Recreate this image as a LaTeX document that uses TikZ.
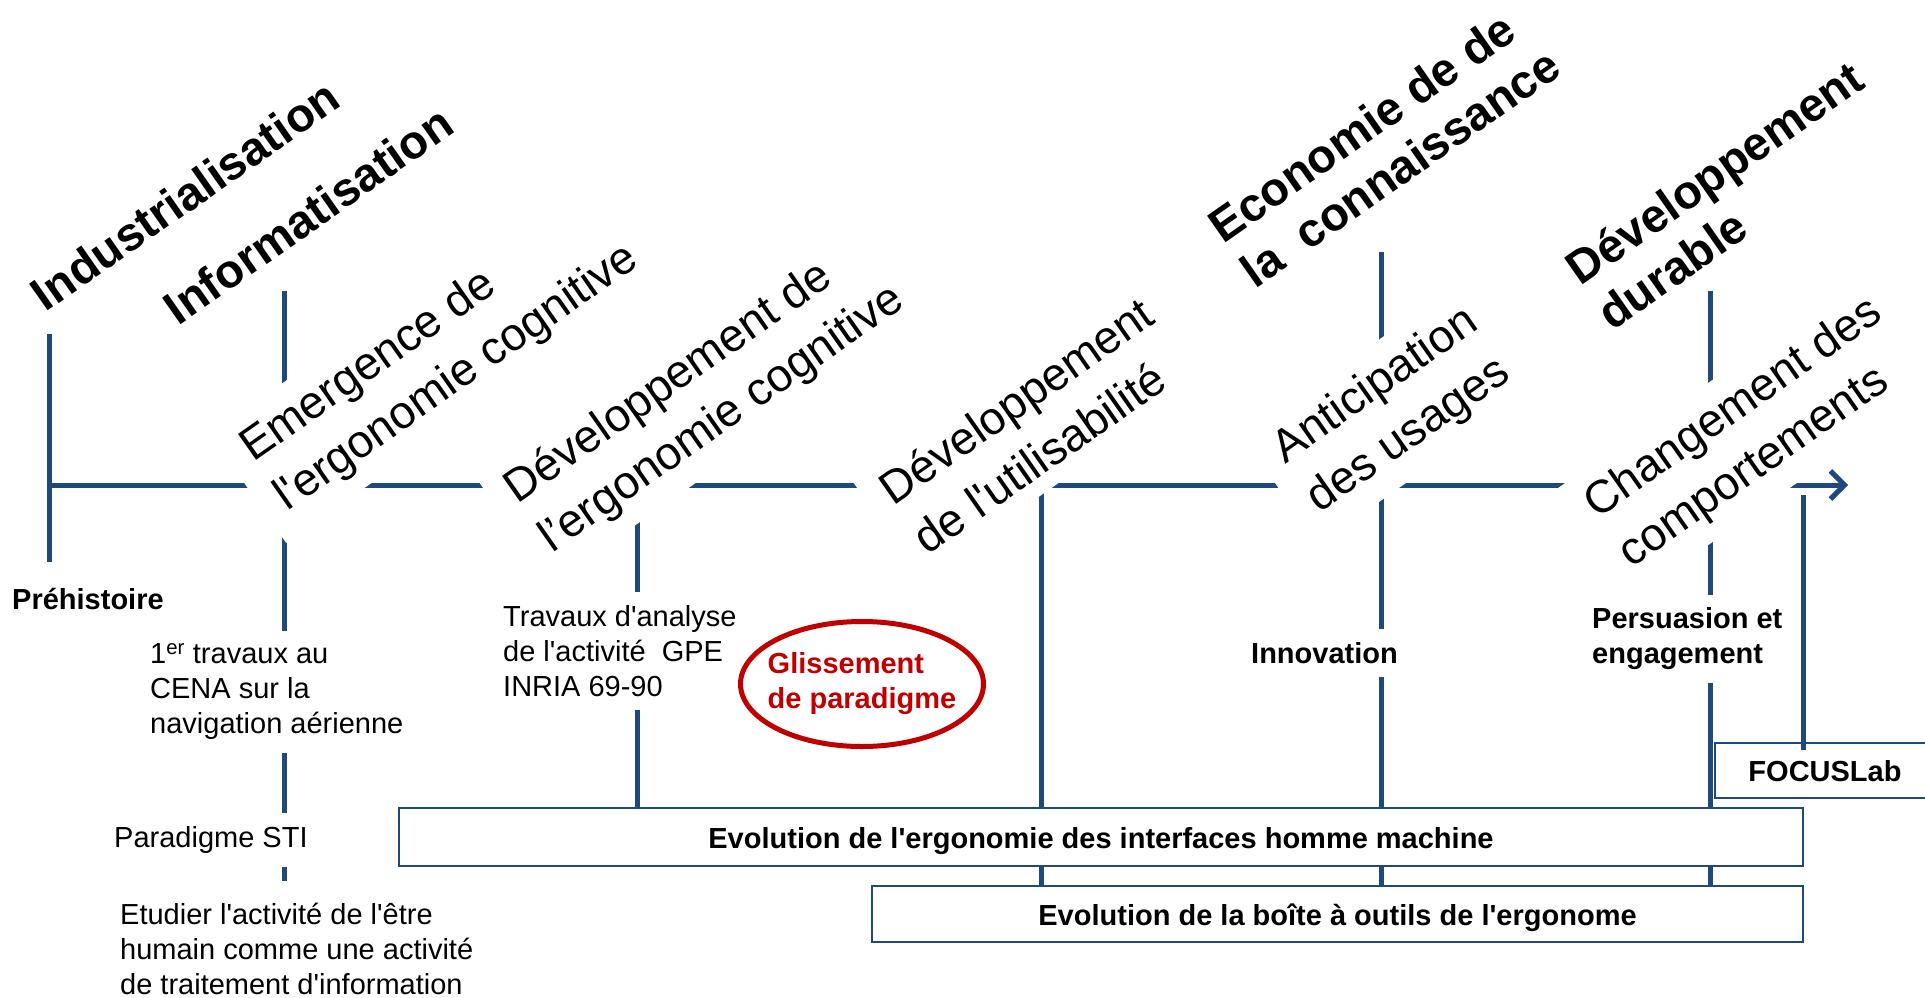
\documentclass[tikz,border=0pt]{standalone}
\usepackage{fontspec}
\setmainfont{Liberation Sans}[Ligatures=TeXOff]
\usetikzlibrary{arrows.meta,shapes.geometric,backgrounds,calc}
\definecolor{axisblue}{RGB}{31,73,125}
\definecolor{slipred}{RGB}{192,0,0}

\begin{document}
\begin{tikzpicture}[x=1pt, y=-1pt,
    era/.style={font=\fontsize{47}{55}\selectfont\bfseries, rotate=35, align=left, inner sep=2pt},
    phase/.style={font=\fontsize{46}{60}\selectfont, rotate=35, align=left, fill=white, inner xsep=19pt, inner ysep=15pt},
    note/.style={font=\fontsize{29}{35}\selectfont, align=left, anchor=west, fill=white, inner xsep=2pt, inner ysep=13pt},
    keynote/.style={note, font=\fontsize{29}{35}\selectfont\bfseries},
    band/.style={draw=axisblue, line width=2pt, fill=white, font=\fontsize{29}{35}\selectfont\bfseries, inner sep=0pt, text height=25pt, text depth=3pt},
    axis/.style={draw=axisblue, line width=5pt}
]
\useasboundingbox (0,0) rectangle (1925,998);

\node[phase] (emerg) at (440,354) {Emergence de\\l'ergonomie cognitive};
\node[phase] (devcog) at (705,395) {Développement de\\l’ergonomie cognitive};
\node[phase] (usab) at (1033,425) {Développement\\de l'utilisabilité};
\node[phase] (antic) at (1393,411) {Anticipation\\des usages};
\node[phase] (chgt) at (1751,434) {Changement des\\comportements};

\node[era] (indus) at (185,195) {Industrialisation};
\node[era] (inform) at (308,215) {Informatisation};
\node[era] (econ) at (1384,145) {Economie de de\\la\ \ connaissance};
\node[era] (durable) at (1730,195) {Développement\\durable};

\node[keynote] (prehist) at (10,599) {Préhistoire};
\node[note] (cena) at (148,692) {1\textsuperscript{er} travaux au\\CENA sur la\\navigation aérienne};
\node[note] (sti) at (112,840) {Paradigme STI};
\node[note] (etudier) at (118,949) {Etudier l'activité de l'être\\humain comme une activité\\de traitement d'information};
\node[note] (gpe) at (501,651) {Travaux d'analyse\\de l'activité\ \ GPE\\INRIA 69-90};
\node[keynote] (innov) at (1249,653) {Innovation};
\node[keynote] (persu) at (1590,639) {Persuasion et\\engagement};

\node[band, minimum width=1404pt, minimum height=58pt] (ihm) at (1101,837) {Evolution de l'ergonomie des interfaces homme machine};
\node[band, minimum width=931pt, minimum height=56pt] (tools) at (1337.5,914) {Evolution de la boîte à outils de l'ergonome};
\node[band, fill=none, minimum width=220pt, minimum height=55pt] (focus) at (1825,770.5) {FOCUSLab};

\node[ellipse, draw=slipred, line width=5pt, minimum width=243pt, minimum height=125pt, inner xsep=-25pt, inner ysep=0pt,
      text=slipred, align=left, font=\fontsize{29}{35}\selectfont\bfseries] (glisse) at (862,684) {Glissement\\de paradigme};

\coordinate (start) at (49,485);
\coordinate (tip) at (1848,485);
\coordinate (v1a) at (49,334);
\coordinate (v1b) at (49,562);
\coordinate (v2a) at (284,291);
\coordinate (v2b) at (284,881);
\coordinate (v3a) at (637,485);
\coordinate (v4a) at (1041,485);
\coordinate (v5a) at (1381,252);
\coordinate (v6a) at (1710,291);
\coordinate (v7a) at (1803,495);

\begin{scope}[on background layer]
\draw[axis, -{Straight Barb[length=14pt, width=28pt]}] (start) -- (tip);
\draw[axis] (v1a) -- (v1b);
\draw[axis] (v2a) -- (v2b);
\draw[axis] (v3a) -- (v3a |- ihm.north);
\draw[axis] (v4a) -- (v4a |- tools.north);
\draw[axis] (v5a) -- (v5a |- tools.north);
\draw[axis] (v6a) -- (v6a |- tools.north);
\draw[axis] (v7a) -- ($(v7a |- focus.north)+(0,8)$);
\end{scope}

\end{tikzpicture}
\end{document}
